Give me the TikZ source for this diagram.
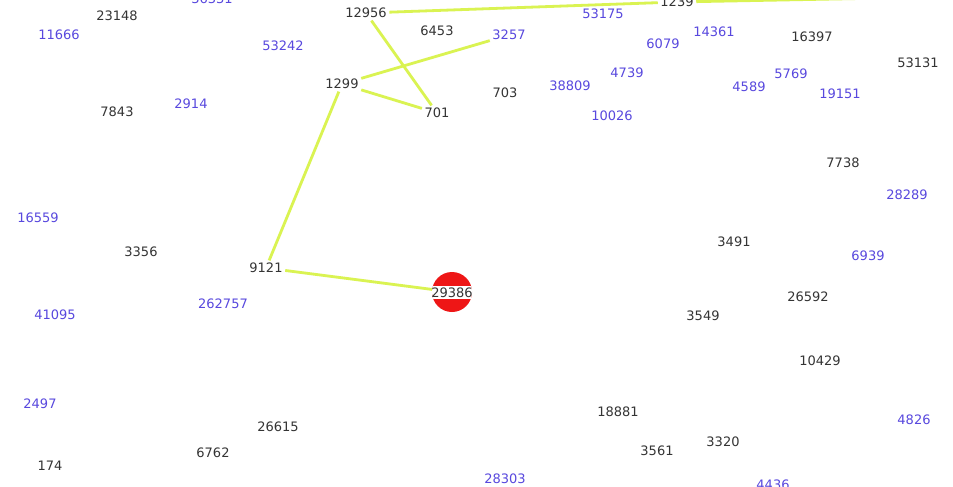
\documentclass[tikz,border=0pt]{standalone}
\usepackage{fontspec}
\setmainfont{DejaVu Sans}
\definecolor{gtxt}{RGB}{52,52,52}
\definecolor{btxt}{RGB}{88,72,222}
\definecolor{edgec}{RGB}{218,243,82}
\definecolor{hotred}{RGB}{238,22,22}
\tikzset{
  lbl/.style={font=\fontsize{13}{15}\selectfont, inner sep=2.5pt},
  gn/.style={lbl, text=gtxt},
  bn/.style={lbl, text=btxt},
  edge/.style={edgec, line width=2.8pt}
}
\begin{document}
\begin{tikzpicture}[x=1pt,y=-1pt]
\clip (0,0) rectangle (953,487);
\fill[white] (0,0) rectangle (953,487);
% nodes
\node[gn] (n23148) at (117,16) {23148};
\node[bn] (n36331) at (212,-1) {36331};
\node[bn] (n11666) at (59,35) {11666};
\node[gn] (n12956) at (366,13) {12956};
\node[gn] (n6453) at (437,31) {6453};
\node[bn] (n3257) at (509,35) {3257};
\node[bn] (n53175) at (603,14) {53175};
\node[gn] (n1239) at (677,2) {1239};
\node[bn] (n36703) at (910,-5) {36703};
\node[bn] (n6079) at (663,44) {6079};
\node[bn] (n14361) at (714,32) {14361};
\node[gn] (n16397) at (812,37) {16397};
\node[gn] (n53131) at (918,63) {53131};
\node[bn] (n53242) at (283,46) {53242};
\node[gn] (n1299) at (342,84) {1299};
\node[gn] (n701) at (437,113) {701};
\node[gn] (n703) at (505,93) {703};
\node[bn] (n38809) at (570,86) {38809};
\node[bn] (n4739) at (627,73) {4739};
\node[bn] (n10026) at (612,116) {10026};
\node[bn] (n4589) at (749,87) {4589};
\node[bn] (n5769) at (791,74) {5769};
\node[bn] (n19151) at (840,94) {19151};
\node[gn] (n7843) at (117,112) {7843};
\node[bn] (n2914) at (191,104) {2914};
\node[gn] (n7738) at (843,163) {7738};
\node[bn] (n28289) at (907,195) {28289};
\node[bn] (n16559) at (38,218) {16559};
\node[gn] (n3356) at (141,252) {3356};
\node[gn] (n9121) at (266,268) {9121};
\node[gn] (n3491) at (734,242) {3491};
\node[bn] (n6939) at (868,256) {6939};
\node[bn] (n262757) at (223,304) {262757};
\node[bn] (n41095) at (55,315) {41095};
\node[gn] (n26592) at (808,297) {26592};
\node[gn] (n3549) at (703,316) {3549};
\node[gn] (n10429) at (820,361) {10429};
\node[bn] (n2497) at (40,404) {2497};
\node[gn] (n18881) at (618,412) {18881};
\node[bn] (n4826) at (914,420) {4826};
\node[gn] (n26615) at (278,427) {26615};
\node[gn] (n3320) at (723,442) {3320};
\node[gn] (n3561) at (657,451) {3561};
\node[gn] (n6762) at (213,453) {6762};
\node[gn] (n174) at (50,466) {174};
\node[bn] (n28303) at (505,479) {28303};
\node[bn] (n4436) at (773,485) {4436};
% highlighted node
\node[circle, fill=hotred, minimum size=40pt, inner sep=0pt] (hot) at (452,292) {};
\begin{scope}
  \clip (hot.center) circle (20pt);
  \fill[white] (430,286) rectangle (475,299);
\end{scope}
\node[gn] (n29386) at (452,292.5) {29386};
% edges
\draw[edge] (n12956) -- (n1239);
\draw[edge] (n1239) -- ([yshift=-3pt]n36703.west);
\draw[edge] (n12956) -- (n701);
\draw[edge] (n1299) -- (n3257);
\draw[edge] (n1299) -- (n701);
\draw[edge] (n1299) -- (n9121);
\draw[edge] (n9121) -- (hot);
\end{tikzpicture}
\end{document}
